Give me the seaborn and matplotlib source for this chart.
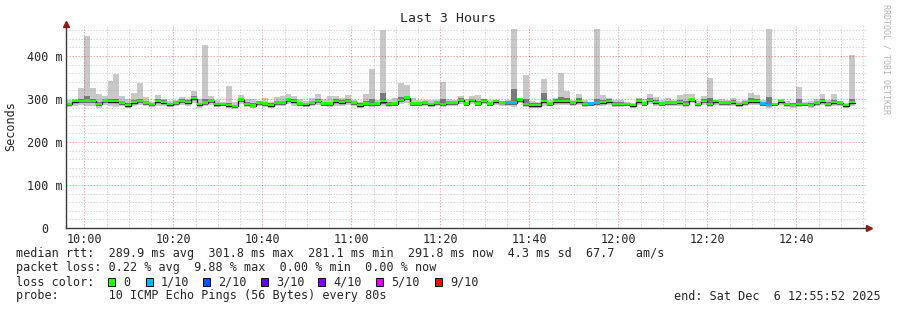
import numpy as np
import pandas as pd
import matplotlib
matplotlib.use("Agg")
import matplotlib.pyplot as plt
from matplotlib.patches import Rectangle
import seaborn as sns

# ---------------- data ----------------
STEP_MIN = 80 / 60.0          # one probe round every 80 s
WINDOW_MIN = 180.0            # 3 hours, 09:55:52 .. 12:55:52

median_rtt = [
    288, 294, 295, 296, 295, 288, 296, 294, 294, 291,
    285, 292, 295, 291, 288, 294, 292, 287, 291, 295,
    292, 301, 287, 291, 296, 287, 288, 285, 283, 298,
    288, 284, 291, 289, 285, 291, 291, 298, 294, 289,
    287, 291, 295, 289, 289, 294, 292, 295, 291, 285,
    289, 288, 289, 294, 288, 289, 297, 303, 289, 289,
    291, 287, 291, 288, 291, 291, 297, 289, 297, 289,
    295, 289, 294, 291, 291, 291, 298, 288, 285, 285,
    294, 289, 294, 294, 294, 291, 294, 288, 289, 291,
    292, 294, 288, 288, 288, 285, 294, 289, 297, 292,
    289, 291, 291, 292, 288, 298, 288, 295, 288, 294,
    291, 291, 292, 287, 291, 294, 294, 289, 286, 288,
    294, 288, 286, 288, 288, 286, 291, 294, 288, 292,
    291, 285, 292]

ping_max = [
    297, 300, 325, 447, 325, 311, 308, 343, 359, 308,
    300, 315, 338, 305, 293, 309, 301, 295, 297, 305,
    299, 318, 299, 426, 306, 298, 293, 331, 293, 309,
    301, 301, 296, 303, 294, 304, 306, 311, 306, 300,
    295, 303, 312, 300, 306, 306, 303, 309, 298, 294,
    311, 369, 298, 461, 298, 303, 338, 332, 303, 297,
    298, 298, 297, 340, 301, 298, 306, 300, 306, 309,
    300, 298, 298, 294, 297, 463, 303, 357, 295, 294,
    346, 298, 303, 361, 318, 298, 311, 297, 294, 463,
    309, 303, 297, 297, 294, 290, 303, 301, 311, 305,
    298, 303, 298, 309, 311, 311, 295, 308, 348, 298,
    301, 298, 303, 295, 297, 315, 309, 297, 463, 291,
    301, 295, 291, 328, 294, 295, 301, 311, 297, 311,
    295, 291, 403]

ping_min = [
    281, 285, 286, 283, 284, 280, 286, 283, 282, 283,
    280, 284, 286, 283, 282, 285, 284, 281, 283, 287,
    283, 290, 280, 283, 287, 281, 283, 280, 278, 288,
    281, 279, 284, 282, 280, 283, 284, 289, 285, 283,
    281, 284, 287, 283, 282, 285, 285, 287, 284, 280,
    283, 281, 283, 284, 282, 283, 288, 292, 283, 284,
    285, 281, 285, 282, 285, 284, 289, 284, 289, 283,
    288, 283, 287, 285, 283, 282, 290, 281, 280, 280,
    285, 283, 287, 286, 287, 285, 286, 282, 283, 283,
    285, 287, 282, 282, 283, 280, 286, 283, 289, 285,
    283, 284, 285, 285, 282, 290, 282, 287, 281, 287,
    284, 285, 285, 281, 285, 287, 286, 283, 280, 283,
    287, 282, 280, 281, 283, 280, 285, 287, 282, 285,
    285, 280, 285]

smoke_hi = [
    292, 298, 300, 306, 300, 293, 301, 300, 301, 296,
    290, 297, 301, 295, 292, 299, 297, 291, 295, 299,
    297, 306, 292, 300, 301, 292, 292, 292, 287, 303,
    294, 290, 295, 294, 290, 296, 296, 303, 299, 294,
    291, 296, 301, 294, 294, 299, 297, 300, 295, 290,
    295, 300, 294, 315, 293, 294, 304, 308, 294, 293,
    295, 292, 295, 300, 296, 295, 302, 294, 301, 296,
    299, 294, 298, 293, 296, 323, 302, 300, 290, 290,
    315, 294, 299, 305, 302, 296, 302, 293, 293, 301,
    298, 299, 293, 293, 292, 289, 299, 294, 302, 297,
    294, 296, 295, 298, 296, 303, 292, 300, 303, 298,
    296, 295, 298, 291, 295, 302, 300, 294, 305, 290,
    298, 292, 290, 300, 292, 291, 296, 300, 293, 298,
    294, 289, 300]

smoke_lo = [
    285, 290, 291, 291, 291, 284, 292, 290, 290, 287,
    282, 288, 291, 287, 284, 290, 288, 284, 287, 291,
    288, 297, 284, 287, 292, 284, 285, 282, 280, 294,
    284, 281, 287, 285, 282, 287, 287, 294, 290, 285,
    284, 287, 291, 285, 285, 290, 288, 291, 287, 282,
    285, 284, 285, 289, 284, 285, 293, 298, 285, 285,
    287, 284, 287, 284, 287, 287, 293, 285, 293, 285,
    291, 285, 290, 288, 287, 287, 294, 284, 282, 282,
    290, 285, 290, 290, 290, 287, 290, 284, 285, 287,
    288, 290, 285, 285, 285, 282, 290, 285, 293, 288,
    285, 287, 287, 288, 284, 294, 284, 291, 284, 290,
    287, 287, 288, 284, 287, 290, 290, 285, 283, 285,
    290, 284, 283, 284, 285, 283, 287, 290, 284, 288,
    287, 282, 288]

loss_tenths = [
    0, 0, 0, 0, 0, 0, 0, 0, 0, 0,
    0, 0, 0, 0, 0, 0, 0, 0, 0, 0,
    0, 0, 0, 0, 0, 0, 0, 0, 0, 0,
    0, 0, 0, 0, 0, 0, 0, 0, 0, 0,
    0, 0, 0, 0, 0, 0, 0, 0, 0, 0,
    0, 0, 0, 0, 0, 0, 0, 0, 0, 0,
    0, 0, 0, 0, 0, 0, 0, 0, 0, 0,
    0, 0, 0, 0, 1, 1, 0, 0, 0, 0,
    0, 0, 0, 0, 0, 0, 0, 0, 1, 1,
    0, 0, 0, 0, 0, 0, 0, 0, 0, 0,
    0, 0, 0, 0, 0, 0, 0, 0, 0, 0,
    0, 0, 0, 0, 0, 0, 0, 1, 1, 0,
    0, 0, 0, 0, 0, 0, 0, 0, 0, 0,
    0, 0, 0]

loss_labels = ["0", "1/10", "2/10", "3/10", "4/10", "5/10", "9/10"]
loss_levels = [0, 1, 2, 3, 4, 5, 9]
loss_colors = ["#26ff00", "#00b8ff", "#0059ff", "#5e00ff", "#7e00ff", "#dd00ff", "#ff0000"]

x_tick_labels = ["10:00", "10:20", "10:40", "11:00", "11:20", "11:40", "12:00", "12:20", "12:40"]
first_tick_min = 4 + 8 / 60.0     # 10:00 relative to 09:55:52
y_tick_values = [0, 100, 200, 300, 400]
y_tick_labels = ["0", "100 m", "200 m", "300 m", "400 m"]

stats_line1 = "median rtt:  289.9 ms avg  301.8 ms max  281.1 ms min  291.8 ms now  4.3 ms sd  67.7   am/s"
stats_line2 = "packet loss: 0.22 % avg  9.88 % max  0.00 % min  0.00 % now"
probe_line = "probe:       10 ICMP Echo Pings (56 Bytes) every 80s"
end_text = "end: Sat Dec  6 12:55:52 2025"

# ---------------- style ----------------
sns.set_style("white")
MONO = ["DejaVu Sans Mono"]
plt.rcParams["font.family"] = MONO
FS = 8.5

W, H = 897, 310
fig = plt.figure(figsize=(W / 100, H / 100), dpi=100)
fig.patch.set_facecolor("white")

def fx(px):
    return px / W

def fy(py):
    return 1 - py / H

ax = fig.add_axes([fx(66), fy(228), (867 - 66) / W, (228 - 26) / H])
ax.set_facecolor("white")

n = len(median_rtt)
starts = np.arange(n) * STEP_MIN
med = np.array(median_rtt, float)

# smoke: outer (min..max) light, inner darker
ax.bar(starts, np.array(ping_max) - np.array(ping_min), bottom=ping_min, width=STEP_MIN,
       align="edge", color="#c8c8c8", linewidth=0, antialiased=False, zorder=1)
ax.bar(starts, np.array(smoke_hi) - np.array(smoke_lo), bottom=smoke_lo, width=STEP_MIN,
       align="edge", color="#7a7a7a", linewidth=0, antialiased=False, zorder=1.1)

# median line (black, steps)
line_df = pd.DataFrame({"minute": np.append(starts, starts[-1] + STEP_MIN),
                        "median": np.append(med, med[-1])})
sns.lineplot(data=line_df, x="minute", y="median", drawstyle="steps-post",
             color="#202020", linewidth=1.0, estimator=None, ax=ax, zorder=1.5)

# loss-coloured median band
cmap = dict(zip(loss_levels, loss_colors))
band_colors = [cmap[l] for l in loss_tenths]
half = 2.6
ax.bar(starts, 2 * half, bottom=med - half + 0.8, width=STEP_MIN, align="edge",
       color=band_colors, linewidth=0, antialiased=False, zorder=1.8)

# axes limits / ticks
ax.set_xlim(0, WINDOW_MIN)
ax.set_ylim(0, 470)
maj_x = first_tick_min + 20 * np.arange(len(x_tick_labels))
ax.set_xticks(maj_x)
ax.set_xticklabels(x_tick_labels, fontsize=FS)
ax.set_xticks(np.arange(first_tick_min, WINDOW_MIN, 5), minor=True)
ax.set_yticks(y_tick_values)
ax.set_yticklabels(y_tick_labels, fontsize=FS, ha="center")
ax.set_yticks(np.arange(0, 470, 20), minor=True)
ax.set_xlabel("")
ax.set_ylabel("")

ax.tick_params(axis="x", which="major", length=2, width=0.8, color="#404040", pad=1.5)
ax.tick_params(axis="x", which="minor", length=1.5, width=0.8, color="#404040")
ax.tick_params(axis="y", which="major", length=2, width=0.8, color="#404040", pad=13.2)
ax.tick_params(axis="y", which="minor", length=0)

ax.set_axisbelow(False)
ax.grid(True, which="minor", color="#8f8f8f", alpha=0.35, linestyle=(0, (1.5, 1.5)), linewidth=0.72)
ax.grid(True, which="major", color="#de3030", alpha=0.4, linestyle=(0, (1.5, 1.5)), linewidth=0.72)

for s in ["top", "right"]:
    ax.spines[s].set_visible(False)
for s in ["left", "bottom"]:
    ax.spines[s].set_color("#3a3a3a")
    ax.spines[s].set_linewidth(1.0)

# arrows
ax.plot([0], [1.012], marker="^", markersize=4.5, color="#8b1a1a", transform=ax.transAxes,
        clip_on=False, zorder=5)
ax.plot([1.003], [0], marker=">", markersize=4.5, color="#8b1a1a", transform=ax.transAxes,
        clip_on=False, zorder=5)

# titles / labels
fig.text(fx(448), fy(19), "Last 3 Hours", ha="center", va="center", fontsize=9.5, family=MONO)
fig.text(fx(11), fy(126), "Seconds", ha="center", va="center", rotation=90, fontsize=FS, family=MONO)
fig.text(fx(886), fy(59), "RRDTOOL / TOBI OETIKER", ha="center", va="center", rotation=270,
         fontsize=6, color="#b4b4b4", family=MONO)

# legend / stats text
fig.text(fx(16), fy(254), stats_line1, ha="left", va="center", fontsize=FS, family=MONO)
fig.text(fx(16), fy(268), stats_line2, ha="left", va="center", fontsize=FS, family=MONO)
fig.text(fx(16), fy(282), "loss color:", ha="left", va="center", fontsize=FS, family=MONO)
sq_x = [108, 146, 203, 261, 318, 376, 435]
for xs, lab, col in zip(sq_x, loss_labels, loss_colors):
    fig.add_artist(Rectangle((fx(xs), fy(286)), 7 / W, 8 / H, transform=fig.transFigure,
                             facecolor=col, edgecolor="black", linewidth=0.7))
    fig.text(fx(xs + 15), fy(282), lab, ha="left", va="center", fontsize=FS, family=MONO)
fig.text(fx(16), fy(296), probe_line, ha="left", va="center", fontsize=FS, family=MONO)
fig.text(fx(881), fy(296), end_text, ha="right", va="center", fontsize=FS, family=MONO)

fig.savefig("out.png", dpi=100, facecolor="white")
